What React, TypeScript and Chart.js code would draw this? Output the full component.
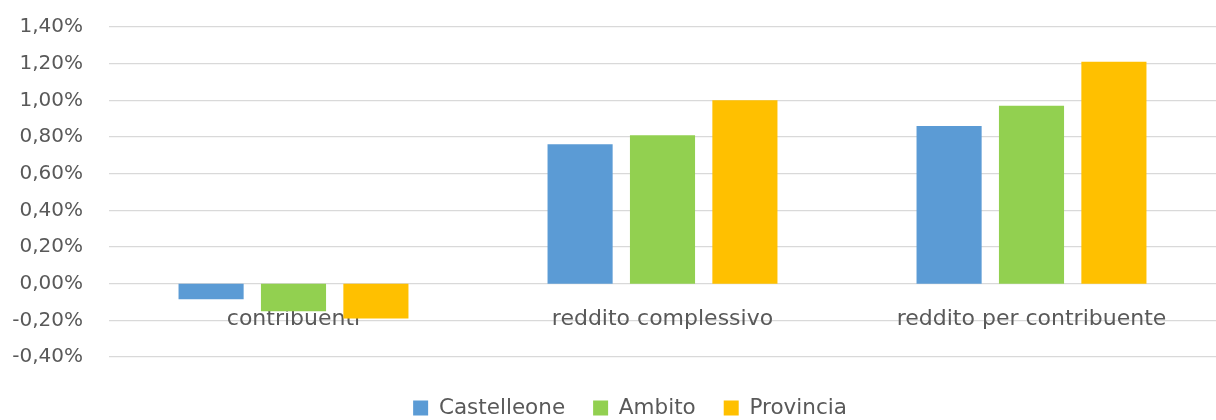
import React, { useEffect, useRef } from "react";
import { Chart, registerables } from "chart.js";

Chart.register(...registerables);

const categories = ["contribuenti", "reddito complessivo", "reddito per contribuente"];
const castelleone = [-0.085, 0.76, 0.86];
const ambito = [-0.15, 0.81, 0.97];
const provincia = [-0.19, 1.0, 1.21];
const seriesNames = ["Castelleone", "Ambito", "Provincia"];
const seriesColors = ["#5b9bd5", "#92d050", "#ffc000"];
const yMin = -0.4;
const yMax = 1.4;
const yStep = 0.2;

const FONT = "'DejaVu Sans', 'Liberation Sans', sans-serif";

const legendShift = {
  id: "legendShift",
  afterLayout(chart: any) {
    const l = chart.legend;
    if (!l) return;
    l.left += 22;
    l.right += 22;
    l.top += 12.25;
    l.bottom += 12.25;
  },
};

export default function App() {
  const ref = useRef<HTMLCanvasElement | null>(null);
  useEffect(() => {
    document.body.style.margin = "0";
    const ctx = ref.current;
    if (!ctx) return;
    const values = [castelleone, ambito, provincia];
    const chart = new Chart(ctx, {
      type: "bar",
      data: {
        labels: categories,
        datasets: seriesNames.map((name, i) => ({
          label: name,
          data: values[i],
          backgroundColor: seriesColors[i],
          borderWidth: 0,
          categoryPercentage: 0.67,
          barPercentage: 0.79,
        })),
      },
      plugins: [legendShift],
      options: {
        animation: false,
        responsive: false,
        maintainAspectRatio: false,
        layout: { padding: { top: 27, right: 0, bottom: 3.5, left: 0 } },
        plugins: {
          tooltip: { enabled: false },
          legend: {
            position: "bottom",
            labels: {
              boxWidth: 15,
              boxHeight: 15,
              padding: 28,
              color: "#595959",
              font: { family: FONT, size: 21.5 },
            },
          },
        },
        scales: {
          x: {
            position: { y: 0 },
            grid: { display: false },
            border: { display: false },
            ticks: {
              color: "#595959",
              maxRotation: 0,
              padding: 14,
              font: { family: FONT, size: 22 },
            },
          },
          y: {
            min: yMin,
            max: yMax,
            afterFit: (scale: any) => {
              scale.width = 109;
            },
            grid: {
              color: "#d9d9d9",
              lineWidth: 1.3,
              drawTicks: true,
              tickLength: 15,
              tickColor: "rgba(0,0,0,0)",
            },
            border: { display: false },
            ticks: {
              stepSize: yStep,
              padding: 11,
              color: "#595959",
              font: { family: FONT, size: 20 },
              callback: (v: any) => (Math.round(Number(v) * 100) / 100).toFixed(2).replace(".", ",") + "%",
            },
          },
        },
      },
    });
    return () => chart.destroy();
  }, []);
  return (
    <div style={{ width: 1216, height: 420 }}>
      <canvas ref={ref} width={1216} height={420} />
    </div>
  );
}
